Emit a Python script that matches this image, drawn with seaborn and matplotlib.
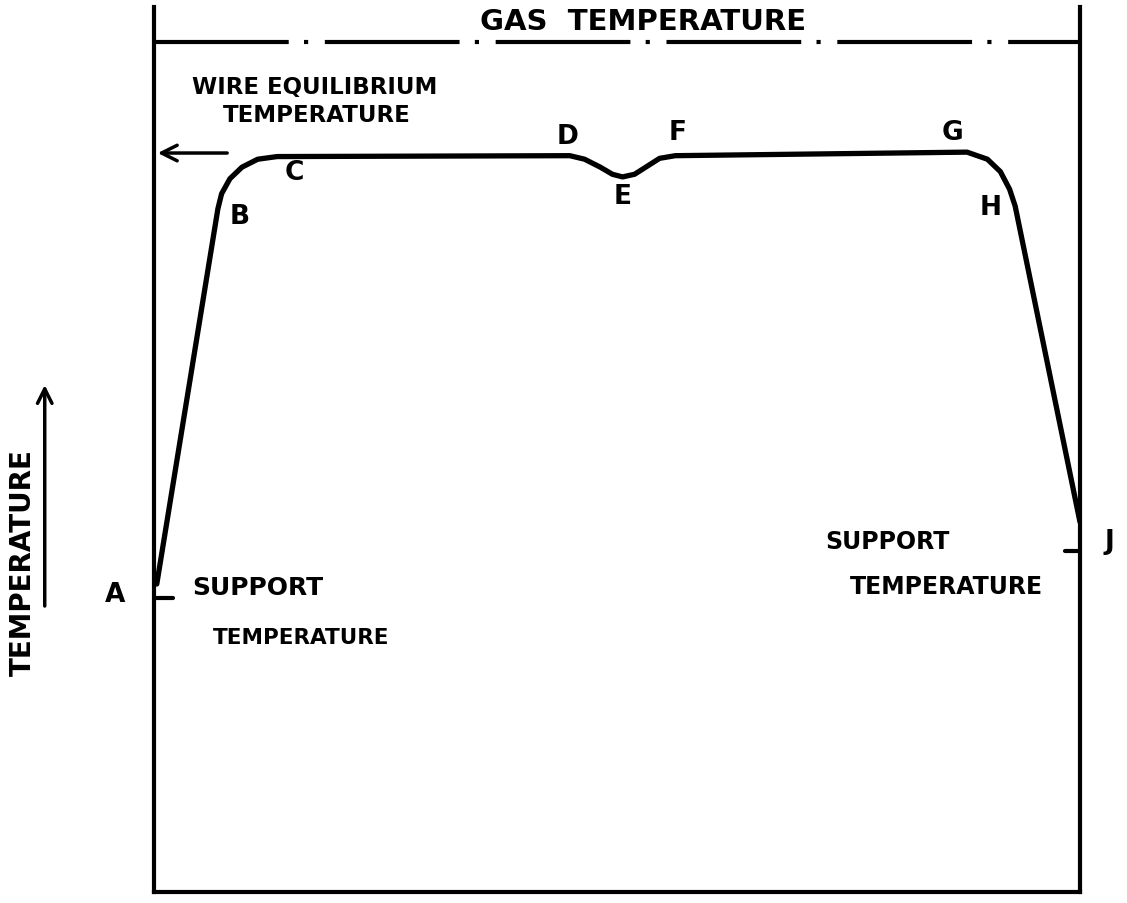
import numpy as np
import pandas as pd
import matplotlib
matplotlib.use("Agg")
import matplotlib.pyplot as plt
import seaborn as sns

# Wire temperature profile along the wire (position 0-100 between supports)
position = [0.3, 6.9, 7.3, 8.2, 9.5, 11.2, 13.3, 44.9, 46.5, 48.2, 49.5, 50.6,
            51.9, 53.4, 54.6, 56.3, 87.8, 90.0, 91.4, 92.4, 93.0, 100.0]
temperature = [34.8, 77.2, 78.9, 80.6, 81.9, 82.8, 83.1, 83.2, 82.8, 81.9, 81.1, 80.8,
               81.1, 82.1, 82.9, 83.2, 83.6, 82.8, 81.4, 79.4, 77.5, 41.8]

# Reference levels
gas_temperature = 96.0
wire_equilibrium = 83.5
support_left = 33.2
support_right = 38.5

# Point labels along the curve
point_names = ["B", "C", "D", "E", "F", "G", "H"]
point_x = [9.3, 15.2, 44.7, 50.6, 56.5, 86.2, 90.4]
point_y = [76.4, 81.4, 85.4, 78.6, 85.9, 85.9, 77.4]

sns.set_theme(style="white")
plt.rcParams["font.family"] = ["DejaVu Sans"]
plt.rcParams["lines.scale_dashes"] = False

fig = plt.figure(figsize=(11.27, 9.04), dpi=100)
W, H = 1127, 904
ax = fig.add_axes([154 / W, (H - 893) / H, (1080 - 154) / W, (893 - 8) / H])
ax.set_xlim(0, 100)
ax.set_ylim(0, 100)
ax.set_xticks([])
ax.set_yticks([])
for side in ["left", "right", "bottom"]:
    ax.spines[side].set_visible(True)
    ax.spines[side].set_color("black")
    ax.spines[side].set_linewidth(3)
ax.spines["top"].set_visible(False)

ink = "black"
font = dict(color=ink, fontweight="bold")

# Wire temperature curve
df = pd.DataFrame({"position": position, "temperature": temperature})
sns.lineplot(data=df, x="position", y="temperature", sort=False, estimator=None,
             color=ink, linewidth=3.8, ax=ax)
ax.lines[-1].set_solid_capstyle("round")
ax.lines[-1].set_solid_joinstyle("round")
ax.set_xlabel("")
ax.set_ylabel("")

# Gas temperature dash-dot line
ax.axhline(gas_temperature, color=ink, linewidth=3,
           linestyle=(0, (97, 11, 3, 12)))
ax.text(52.8, 98.4, "GAS  TEMPERATURE", ha="center", va="center", fontsize=21, **font)

# Wire equilibrium temperature arrow
ax.annotate("", xy=(0.1, wire_equilibrium), xytext=(8.2, wire_equilibrium),
            arrowprops=dict(arrowstyle="->", color=ink, lw=2.5, mutation_scale=28))
ax.text(17.3, 91.0, "WIRE EQUILIBRIUM", ha="center", va="center", fontsize=16.5, **font)
ax.text(17.6, 87.9, "TEMPERATURE", ha="center", va="center", fontsize=16.5, **font)

# Support temperature marks
ax.plot([0, 2.0], [support_left, support_left], color=ink, linewidth=3, clip_on=False)
ax.plot([98.4, 100], [support_right, support_right], color=ink, linewidth=3, clip_on=False)
ax.text(4.1, 34.5, "SUPPORT", ha="left", va="center", fontsize=18, **font)
ax.text(6.4, 28.8, "TEMPERATURE", ha="left", va="center", fontsize=15.5, **font)
ax.text(72.5, 39.7, "SUPPORT", ha="left", va="center", fontsize=17, **font)
ax.text(75.2, 34.6, "TEMPERATURE", ha="left", va="center", fontsize=17, **font)

# End point letters outside the box
ax.text(-4.2, 33.7, "A", ha="center", va="center", fontsize=19, clip_on=False, **font)
ax.text(103.2, 39.7, "J", ha="center", va="center", fontsize=19, clip_on=False, **font)

for name, px, py in zip(point_names, point_x, point_y):
    ax.text(px, py, name, ha="center", va="center", fontsize=19, **font)

# Vertical temperature axis arrow
ax.annotate("", xy=(-11.8, 57.6), xytext=(-11.8, 32.0), xycoords="data",
            arrowprops=dict(arrowstyle="->", color=ink, lw=2.5, mutation_scale=26),
            annotation_clip=False)
ax.text(-14.2, 37.3, "TEMPERATURE", ha="center", va="center", rotation=90,
        fontsize=20, clip_on=False, **font)

fig.savefig("out.png", dpi=100, facecolor="white")
